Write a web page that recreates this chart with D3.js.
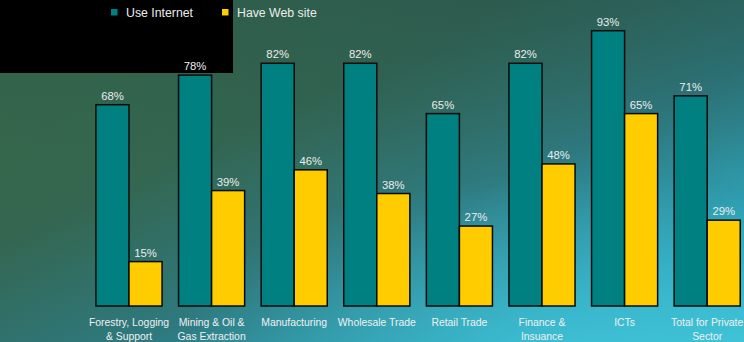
<!DOCTYPE html>
<html>
<head>
<meta charset="utf-8">
<script src="https://cdn.jsdelivr.net/npm/d3@7"></script>
<style>
  html, body { margin: 0; padding: 0; background: #2f6660; }
  svg { display: block; font-family: "Liberation Sans", Arial, sans-serif; }
</style>
</head>
<body>
<svg id="chart" width="744" height="342"></svg>
<script>
// sector labels, two lines each
const categories = [
  ["Forestry, Logging", "& Support"],
  ["Mining & Oil &", "Gas Extraction"],
  ["Manufacturing"],
  ["Wholesale Trade"],
  ["Retail Trade"],
  ["Finance &", "Insuance"],
  ["ICTs"],
  ["Total for Private", "Sector"]
];
const seriesNames = ["Use Internet", "Have Web site"];
const useInternet = [68, 78, 82, 82, 65, 82, 93, 71];
const haveWebSite = [15, 39, 46, 38, 27, 48, 65, 29];

const colors = ["#008080", "#ffcc00"];
const W = 744, H = 342;
const baseY = 306;

const svg = d3.select("#chart");

// background gradient
const defs = svg.append("defs");
const lg = defs.append("linearGradient")
  .attr("id", "bg").attr("x1", 0).attr("y1", 0).attr("x2", 1).attr("y2", 1);
lg.append("stop").attr("offset", 0).attr("stop-color", "#3a6c46");
lg.append("stop").attr("offset", 0.35).attr("stop-color", "#346650");
lg.append("stop").attr("offset", 0.6).attr("stop-color", "#2e7a80");
lg.append("stop").attr("offset", 0.85).attr("stop-color", "#2ea6bd");
lg.append("stop").attr("offset", 1).attr("stop-color", "#3bbfd2");
const rg = defs.append("radialGradient")
  .attr("id", "glow").attr("cx", 0.78).attr("cy", 1.05).attr("r", 0.55);
rg.append("stop").attr("offset", 0).attr("stop-color", "#45c8dc").attr("stop-opacity", 0.7);
rg.append("stop").attr("offset", 1).attr("stop-color", "#45c8dc").attr("stop-opacity", 0);
const tg = defs.append("linearGradient")
  .attr("id", "topShade").attr("x1", 0).attr("y1", 0).attr("x2", 0).attr("y2", 1);
tg.append("stop").attr("offset", 0).attr("stop-color", "#24504e").attr("stop-opacity", 0.45);
tg.append("stop").attr("offset", 0.5).attr("stop-color", "#24504e").attr("stop-opacity", 0);

svg.append("rect").attr("width", W).attr("height", H).attr("fill", "url(#bg)");
svg.append("rect").attr("width", W).attr("height", H).attr("fill", "url(#topShade)");
svg.append("rect").attr("width", W).attr("height", H).attr("fill", "url(#glow)");

// legend box sits under the bars and labels
svg.append("rect").attr("x", 0).attr("y", 0).attr("width", 233).attr("height", 73).attr("fill", "#000");

const keys = categories.map(d => d.join(" "));
const data = keys.map((k, i) => ({ key: k, values: [useInternet[i], haveWebSite[i]] }));

const x0 = d3.scaleBand()
  .domain(keys)
  .range([87.7, 748.5])
  .paddingInner(0.2)
  .paddingOuter(0.1);
const x1 = d3.scaleBand()
  .domain(seriesNames)
  .range([0, x0.bandwidth()]);
const y = d3.scaleLinear().domain([0, 100]).range([baseY, 10]);

const groups = svg.append("g").selectAll("g")
  .data(data)
  .join("g")
  .attr("transform", d => `translate(${x0(d.key)},0)`);

groups.selectAll("rect")
  .data(d => d.values.map((v, j) => ({ name: seriesNames[j], value: v, j })))
  .join("rect")
  .attr("x", d => x1(d.name))
  .attr("y", d => y(d.value))
  .attr("width", x1.bandwidth())
  .attr("height", d => baseY - y(d.value))
  .attr("fill", d => colors[d.j])
  .attr("stroke", "#0a0a0a")
  .attr("stroke-width", 1.5);

groups.selectAll("text.val")
  .data(d => d.values.map((v, j) => ({ name: seriesNames[j], value: v })))
  .join("text")
  .attr("class", "val")
  .attr("x", d => x1(d.name) + x1.bandwidth() / 2)
  .attr("y", d => y(d.value) - 5)
  .attr("text-anchor", "middle")
  .attr("fill", "#ececec")
  .style("font-size", "11.3px")
  .text(d => d.value + "%");

// category labels
const catText = svg.append("g").selectAll("text")
  .data(categories)
  .join("text")
  .attr("x", (d, i) => x0(keys[i]) + x0.bandwidth() / 2)
  .attr("y", 325.5)
  .attr("text-anchor", "middle")
  .attr("fill", "#f0f0f0")
  .style("font-size", "10.4px");
catText.selectAll("tspan")
  .data(d => d)
  .join("tspan")
  .attr("x", function () { return d3.select(this.parentNode).attr("x"); })
  .attr("dy", (d, i) => i === 0 ? 0 : 14)
  .text(d => d);

// legend entries
const legX = [111, 222];
const leg = svg.append("g").selectAll("g")
  .data(seriesNames)
  .join("g")
  .attr("transform", (d, i) => `translate(${legX[i]},9)`);
leg.append("rect").attr("width", 6.5).attr("height", 6.5).attr("fill", (d, i) => colors[i]);
leg.append("text")
  .attr("x", 15).attr("y", 8.3)
  .attr("fill", "#ececec")
  .style("font-size", "12.3px")
  .text(d => d);
</script>
</body>
</html>
